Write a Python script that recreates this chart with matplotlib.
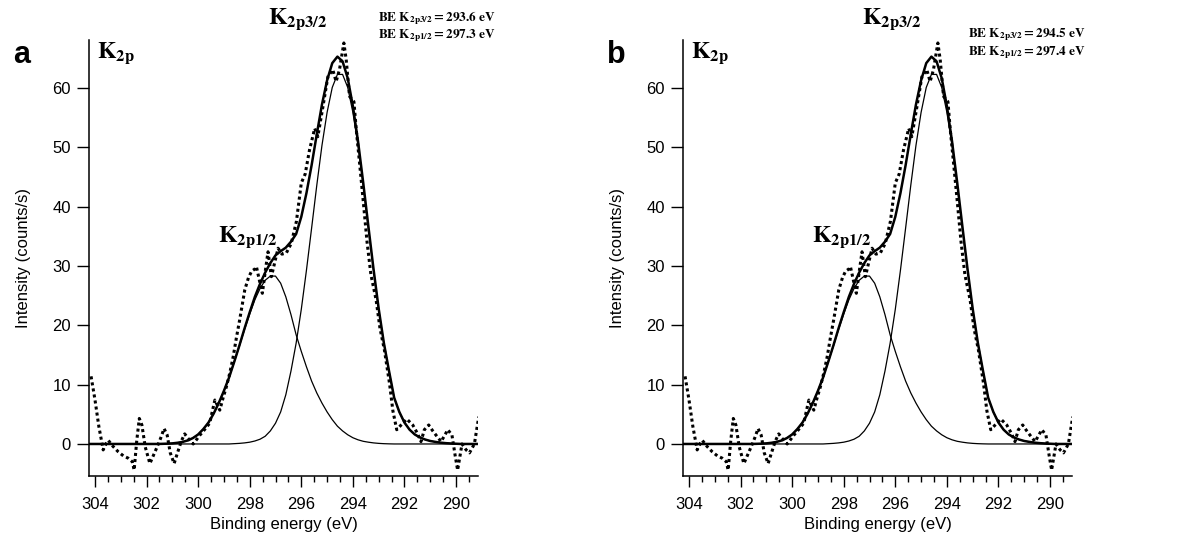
import matplotlib
matplotlib.use("Agg")
import matplotlib.pyplot as plt
from matplotlib.ticker import MultipleLocator

plt.rcParams['font.family'] = ['Liberation Sans', 'DejaVu Sans']
plt.rcParams['mathtext.fontset'] = 'stix'

# measured spectrum (binding energy in eV, intensity in counts/s)
be_data = [304.15, 304.0, 303.85, 303.68, 303.55, 303.48, 303.3, 303.1, 302.9, 302.71,
           302.55, 302.48, 302.38, 302.28, 302.18, 302.05, 301.87, 301.72, 301.61, 301.45,
           301.32, 301.2, 301.08, 300.93, 300.8, 300.65, 300.52, 300.4, 300.19, 300.05,
           299.93, 299.81, 299.68, 299.55, 299.45, 299.35, 299.25, 299.16, 299.03, 298.9,
           298.77, 298.64, 298.52, 298.39, 298.19, 298.05, 297.93, 297.8, 297.74, 297.62,
           297.51, 297.4, 297.29, 297.16, 297.03, 296.9, 296.75, 296.58, 296.39, 296.19,
           296.0, 295.85, 295.68, 295.48, 295.36, 295.16, 294.97, 294.78, 294.65, 294.52,
           294.35, 294.26, 294.13, 293.96, 293.87, 293.74, 293.6, 293.45, 293.3, 293.1,
           292.95, 292.78, 292.58, 292.45, 292.3, 292.13, 291.91, 291.68, 291.5, 291.36,
           291.23, 291.06, 290.92, 290.78, 290.58, 290.32, 290.16, 290.03, 289.94, 289.77,
           289.61, 289.48, 289.29, 289.12]
counts_data = [11.4, 7.5, 3.0, -1.0, 0.2, 0.6, -0.4, -1.3, -2.0, -2.4,
               -3.0, -4.4, 0.5, 4.3, 3.2, -0.5, -3.3, -1.8, -0.7, 1.0,
               2.6, 1.5, -1.5, -3.3, -1.5, 0.5, 1.7, 1.0, 0.0, 0.8,
               1.5, 2.1, 2.8, 3.5, 5.5, 7.4, 6.5, 5.7, 7.8, 9.7,
               12.0, 14.7, 17.8, 20.9, 26.0, 28.0, 29.1, 29.5, 29.9, 27.5,
               25.4, 29.0, 32.4, 28.2, 30.6, 33.0, 32.0, 32.2, 33.8, 37.5,
               44.0, 45.5, 49.6, 53.2, 51.8, 56.9, 61.9, 63.1, 61.1, 63.1,
               67.6, 64.8, 58.6, 57.7, 53.0, 47.3, 41.0, 34.0, 28.5, 24.3,
               19.5, 15.9, 10.2, 5.6, 2.4, 3.2, 4.2, 3.2, 1.8, 0.4,
               2.4, 3.2, 2.3, 1.5, 0.4, 2.4, 1.5, -2.1, -4.4, 0.0,
               -1.0, -1.5, 0.0, 4.6]

# fitted components on a 0.2 eV grid
be_fit = [304.2, 304.0, 303.8, 303.6, 303.4, 303.2, 303.0, 302.8, 302.6, 302.4,
          302.2, 302.0, 301.8, 301.6, 301.4, 301.2, 301.0, 300.8, 300.6, 300.4,
          300.2, 300.0, 299.8, 299.6, 299.4, 299.2, 299.0, 298.8, 298.6, 298.4,
          298.2, 298.0, 297.8, 297.6, 297.4, 297.2, 297.0, 296.8, 296.6, 296.4,
          296.2, 296.0, 295.8, 295.6, 295.4, 295.2, 295.0, 294.8, 294.6, 294.4,
          294.2, 294.0, 293.8, 293.6, 293.4, 293.2, 293.0, 292.8, 292.6, 292.4,
          292.2, 292.0, 291.8, 291.6, 291.4, 291.2, 291.0, 290.8, 290.6, 290.4,
          290.2, 290.0, 289.8, 289.6, 289.4, 289.2]
k2p32_fit = [0, 0, 0, 0, 0, 0, 0, 0, 0, 0,
             0, 0, 0, 0, 0, 0, 0, 0, 0, 0,
             0, 0, 0, 0, 0, 0, 0, 0, 0.05, 0.1,
             0.18, 0.3, 0.5, 0.8, 1.3, 2.2, 3.5, 5.4, 8.3, 12.3,
             17.0, 22.7, 29.3, 36.4, 43.6, 50.3, 55.9, 60.1, 62.3, 62.3,
             60.1, 55.9, 50.3, 43.6, 36.4, 29.3, 22.7, 17.0, 12.3, 7.8,
             5.4, 3.6, 2.4, 1.6, 1.1, 0.75, 0.5, 0.35, 0.22, 0.14,
             0.08, 0.04, 0, 0, 0, 0]
k2p12_fit = [0, 0, 0, 0, 0, 0, 0, 0, 0, 0,
             0, 0, 0, 0, 0.02, 0.05, 0.1, 0.2, 0.35, 0.6,
             1.0, 1.6, 2.5, 3.6, 5.1, 6.9, 8.95, 11.2, 13.8, 16.5,
             19.3, 21.9, 24.3, 26.2, 27.6, 28.3, 28.3, 27.1, 24.8, 21.8,
             18.4, 15.6, 13.0, 10.6, 8.6, 6.9, 5.4, 4.1, 3.0, 2.2,
             1.55, 1.05, 0.7, 0.45, 0.3, 0.18, 0.1, 0.05, 0.02, 0,
             0, 0, 0, 0, 0, 0, 0, 0, 0, 0,
             0, 0, 0, 0, 0, 0]
envelope_fit = [a + b for a, b in zip(k2p32_fit, k2p12_fit)]

panel_labels = ['a', 'b']
be_32_values = ['293.6', '294.5']
be_12_values = ['297.3', '297.4']

W, H = 1189, 536
fig = plt.figure(figsize=(W / 100, H / 100), dpi=100)


def fx(px):
    return px / W


def fy(py):
    return 1 - py / H


for i in range(2):
    dx = 594 * i
    ax = fig.add_axes([fx(89 + dx), fy(476), fx(389), (476 - 40) / H])
    ax.plot(be_fit, k2p32_fit, color='black', lw=0.9)
    ax.plot(be_fit, k2p12_fit, color='black', lw=0.9)
    ax.plot(be_fit, envelope_fit, color='black', lw=1.8)
    ax.plot(be_data, counts_data, color='black', lw=2.2, linestyle=(0, (1, 1)))

    ax.set_xlim(304.23, 289.15)
    ax.set_ylim(-5.4, 68.1)
    ax.xaxis.set_major_locator(MultipleLocator(2))
    ax.xaxis.set_minor_locator(MultipleLocator(0.5))
    ax.yaxis.set_major_locator(MultipleLocator(10))
    for s in ['top', 'right']:
        ax.spines[s].set_visible(False)
    for s in ['left', 'bottom']:
        ax.spines[s].set_linewidth(1.1)
    ax.tick_params(axis='both', which='major', direction='out', width=1.0, labelsize=12)
    ax.tick_params(axis='x', which='major', length=8, pad=7)
    ax.tick_params(axis='x', which='minor', length=4.5, width=1.0)
    ax.tick_params(axis='y', which='major', length=9, pad=4)
    ax.set_xlabel('Binding energy (eV)', fontsize=12, labelpad=4)
    ax.set_ylabel('Intensity (counts/s)', fontsize=12, labelpad=15)

    fig.text(fx(22 + dx), fy(55), panel_labels[i], fontsize=22, fontweight='bold',
             ha='center', va='center')
    fig.text(fx(97 + dx), fy(53), r'$\mathbf{K}_{\mathbf{2p}}$', fontsize=17,
             ha='left', va='center')
    fig.text(fx(268 + dx), fy(19), r'$\mathbf{K}_{\mathbf{2p3/2}}$', fontsize=17,
             ha='left', va='center')
    fig.text(fx(218 + dx), fy(237), r'$\mathbf{K}_{\mathbf{2p1/2}}$', fontsize=17,
             ha='left', va='center')

    bx = 378 if i == 0 else 968
    by = 18 if i == 0 else 35
    fig.text(fx(bx), fy(by), r'$\mathbf{BE\ K}_{\mathbf{2p3/2}}\mathbf{= ' + be_32_values[i] + r'\ eV}$',
             fontsize=9.5, ha='left', va='center')
    fig.text(fx(bx), fy(by + 18), r'$\mathbf{BE\ K}_{\mathbf{2p1/2}}\mathbf{= ' + be_12_values[i] + r'\ eV}$',
             fontsize=9.5, ha='left', va='center')

fig.savefig('out.png', dpi=100)
